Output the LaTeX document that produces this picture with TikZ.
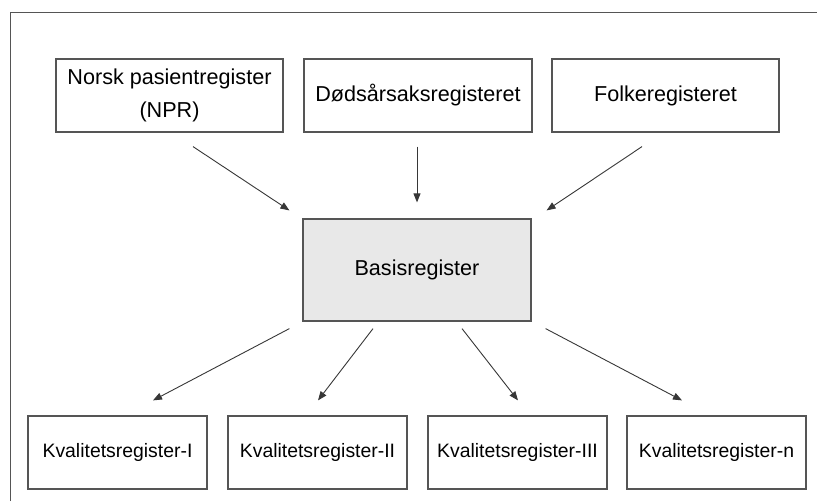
\documentclass[tikz,border=0pt]{standalone}
\usepackage{fontspec}
\setmainfont{Liberation Sans}
\usetikzlibrary{arrows.meta,shapes}
\newcommand{\topfont}{\fontsize{21.6}{33}\selectfont}
\newcommand{\botfont}{\fontsize{19.4}{23}\selectfont}
\definecolor{rim}{RGB}{85,85,85}
\definecolor{pilfarge}{RGB}{55,55,55}
\definecolor{basisfill}{RGB}{232,232,232}

\begin{document}
\begin{tikzpicture}[x=1pt,y=-1pt]
            %\draw[help lines] (0,0) grid (817,501);
            \tikzset{reg/.style = {draw=rim, line width=1.2pt, inner sep=0pt, align=center, font=\topfont},
                     kval/.style = {reg, minimum width=179pt, minimum height=73pt, font=\botfont},
                     pil/.style = {draw=pilfarge, line width=0.9pt, -{Triangle[length=9pt,width=7pt]}}}
            \useasboundingbox (0,0) rectangle (817,501);
            \draw[rim, line width=1.2pt] (10.5,501) -- (10.5,12.5) -- (817,12.5);
            % kilder
            \node[reg, minimum width=227pt, minimum height=73pt] (npr) at (169.5,95.5) {Norsk pasientregister\\(NPR)};
            \node[reg, minimum width=228pt, minimum height=73pt] (dod) at (418,95.5) {Dødsårsaksregisteret};
            \node[reg, minimum width=227pt, minimum height=73pt] (folke) at (665.5,95.5) {Folkeregisteret};
            % basis
            \node[reg, fill=basisfill, minimum width=228pt, minimum height=102pt] (basis) at (417,270) {Basisregister};
            % kvalitetsregistre
            \node[kval] (k1) at (117.5,452.5) {Kvalitetsregister-I};
            \node[kval] (k2) at (317.5,452.5) {Kvalitetsregister-II};
            \node[kval] (k3) at (517.5,452.5) {Kvalitetsregister-III};
            \node[kval] (kn) at (716.5,452.5) {Kvalitetsregister-n};
            \draw[pil] ([shift={(23.5,14)}]npr.south) -- ([shift={(-13,-8)}]basis.north west);
            \draw[pil] ([shift={(-1,14)}]dod.south) -- ([shift={(0,-16)}]basis.north);
            \draw[pil] ([shift={(-23.5,14)}]folke.south) -- ([shift={(15,-8)}]basis.north east);
            \draw[pil] ([shift={(-13,7)}]basis.south west) -- ([shift={(35.5,-15)}]k1.north);
            \draw[pil] ([shift={(-44,7)}]basis.south) -- ([shift={(0.5,-15)}]k2.north);
            \draw[pil] ([shift={(45,7)}]basis.south) -- ([shift={(0.5,-15)}]k3.north);
            \draw[pil] ([shift={(14,7)}]basis.south east) -- ([shift={(-34.5,-15)}]kn.north);
        \end{tikzpicture}
\end{document}
